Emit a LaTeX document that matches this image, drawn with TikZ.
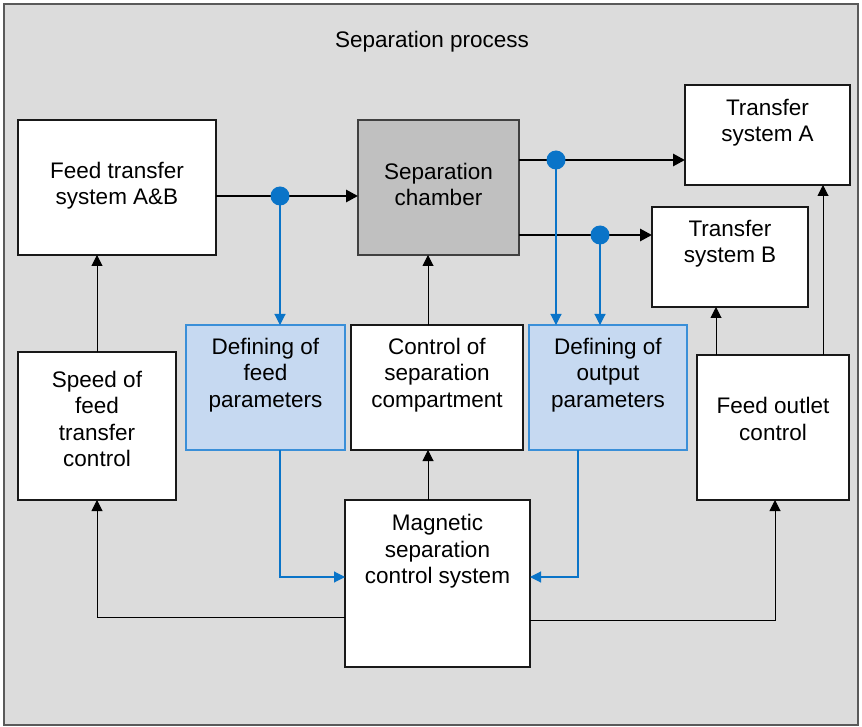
\documentclass[tikz,border=0pt]{standalone}
\usepackage{fontspec}
\setmainfont{Liberation Sans}
\usetikzlibrary{arrows.meta}
\definecolor{panel}{HTML}{DCDCDC}
\definecolor{panelline}{HTML}{5A5A5A}
\definecolor{chamberfill}{HTML}{C0C0C0}
\definecolor{paramfill}{HTML}{C6D9F1}
\definecolor{paramline}{HTML}{3A8FD8}
\definecolor{signal}{HTML}{0A74C8}
\begin{document}
\begin{tikzpicture}[x=1pt,y=-1pt,
  every node/.style={font=\fontsize{22.5}{26.5}\selectfont},
  box/.style={draw=black!90, line width=1.1pt, fill=white, inner sep=0pt, outer sep=0pt},
  grey box/.style={box, fill=chamberfill, draw=black!75},
  param box/.style={box, fill=paramfill, draw=paramline},
  txt/.style={align=center, inner sep=0pt},
  flow/.style={line width=2.8pt, -{Triangle[length=12pt,width=12pt]}},
  link/.style={line width=1pt, -{Triangle[length=11pt,width=11pt]}},
  sig/.style={draw=signal, line width=1.1pt, -{Triangle[length=11pt,width=11pt]}},
  tap/.style={circle, fill=signal, minimum size=19pt, inner sep=0pt},
]
\useasboundingbox (0,0) rectangle (862,727);
\draw[fill=panel, draw=panelline, line width=1.3pt] (4,4) rectangle (858,725);
\node[txt] (title) at (432,42) {Separation process};

% boxes
\node[box, minimum width=198pt, minimum height=135pt] (feed) at (117,187.5) {};
\node[grey box, minimum width=161pt, minimum height=135pt] (chamber) at (438.5,187.5) {};
\node[box, minimum width=165pt, minimum height=100pt] (tA) at (767.5,135) {};
\node[box, minimum width=156pt, minimum height=100pt] (tB) at (730,257) {};
\node[box, minimum width=158pt, minimum height=148pt] (speed) at (97,426) {};
\node[param box, minimum width=159pt, minimum height=125pt] (defF) at (265.5,387.5) {};
\node[box, minimum width=172pt, minimum height=125pt] (ctrl) at (437,387.5) {};
\node[param box, minimum width=158pt, minimum height=125pt] (defO) at (608,387.5) {};
\node[box, minimum width=152pt, minimum height=145pt] (outlet) at (773,427.5) {};
\node[box, minimum width=185pt, minimum height=167pt] (mag) at (437.5,583.5) {};

% box labels
\node[txt] (feed-t) at (117,185.5) {Feed transfer\\system A\&B};
\node[txt] (chamber-t) at (438.5,184.5) {Separation\\chamber};
\node[txt] (tA-t) at (767.5,122.5) {Transfer\\system A};
\node[txt] (tB-t) at (730,243.5) {Transfer\\system B};
\node[txt] (speed-t) at (97,419) {Speed of\\feed\\transfer\\control};
\node[txt] (defF-t) at (265.5,375) {Defining of\\feed\\parameters};
\node[txt] (ctrl-t) at (437,375) {Control of\\separation\\compartment};
\node[txt] (defO-t) at (608,375) {Defining of\\output\\parameters};
\node[txt] (outlet-t) at (773,419) {Feed outlet\\control};
\node[txt] (mag-t) at (437.5,551.5) {Magnetic\\separation\\control system};

% tap points and routing guides
\coordinate (d1) at (280,196);
\coordinate (dA) at (556,160);
\coordinate (dB) at (600,235);
\coordinate (xc) at (428,0);
\coordinate (xoB) at (716,0);
\coordinate (xoA) at (823,0);
\coordinate (xr) at (775,0);
\coordinate (xo) at (578,0);
\coordinate (yb) at (0,577);
\coordinate (yl) at (0,617);
\coordinate (yr) at (0,620);

% material flow
\draw[flow] (feed.east |- d1) -- (chamber.west |- d1);
\draw[flow] (chamber.east |- dA) -- (tA.west |- dA);
\draw[flow] (chamber.east |- dB) -- (tB.west |- dB);

% control links
\draw[link] (speed.north) -- (speed.north |- feed.south);
\draw[link] (ctrl.north -| xc) -- (chamber.south -| xc);
\draw[link] (mag.north -| xc) -- (ctrl.south -| xc);
\draw[link] (outlet.north -| xoB) -- (tB.south -| xoB);
\draw[link] (outlet.north -| xoA) -- (tA.south -| xoA);
\draw[link] (mag.west |- yl) -| (speed.south);
\draw[link] (mag.east |- yr) -| (outlet.south -| xr);

% measurement signals
\draw[sig] (d1) -- (d1 |- defF.north);
\draw[sig] (dA) -- (dA |- defO.north);
\draw[sig] (dB) -- (dB |- defO.north);
\draw[sig] (defF.south -| d1) |- (mag.west |- yb);
\draw[sig] (defO.south -| xo) |- (mag.east |- yb);

\node[tap] (tap1) at (d1) {};
\node[tap] (tapA) at (dA) {};
\node[tap] (tapB) at (dB) {};
\end{tikzpicture}
\end{document}
